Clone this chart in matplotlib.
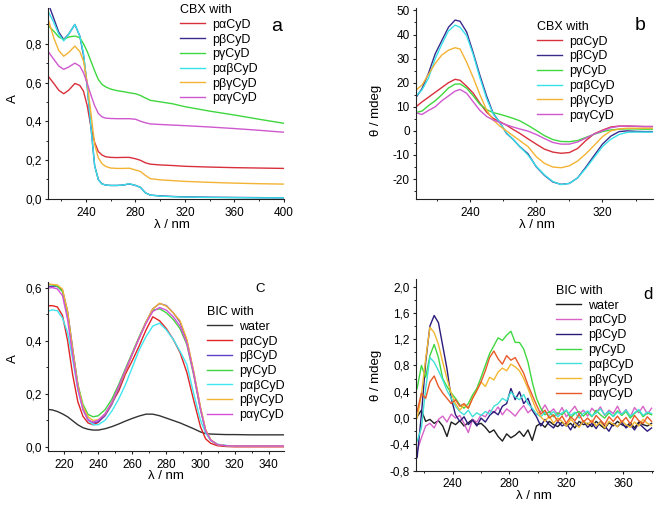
import numpy as np
import matplotlib
matplotlib.use("Agg")
import matplotlib.pyplot as plt
from matplotlib.ticker import MultipleLocator, AutoMinorLocator, FuncFormatter

plt.rcParams['font.family'] = ['Liberation Sans', 'DejaVu Sans']
plt.rcParams['axes.unicode_minus'] = False

# ---------------- panel a : CBX UV-Vis ----------------
wl_a = [210, 214, 218, 222, 226, 231, 235, 238, 241, 244, 247, 250, 253, 256, 260, 265,
        270, 275, 280, 284, 288, 292, 300, 310, 320, 340, 360, 380, 400]
a_pa = [0.628, 0.595, 0.56, 0.542, 0.56, 0.595, 0.585, 0.555, 0.48, 0.37, 0.29, 0.243, 0.225, 0.216, 0.213,
        0.212, 0.213, 0.213, 0.206, 0.198, 0.185, 0.178, 0.174, 0.171, 0.167, 0.163, 0.16, 0.158, 0.156]
a_pb = [1.00, 0.93, 0.86, 0.822, 0.85, 0.90, 0.84, 0.74, 0.58, 0.37, 0.17, 0.098, 0.076, 0.07, 0.068,
        0.068, 0.07, 0.076, 0.068, 0.058, 0.03, 0.018, 0.014, 0.011, 0.009, 0.007, 0.006, 0.005, 0.004]
a_pg = [0.89, 0.865, 0.835, 0.823, 0.835, 0.84, 0.832, 0.80, 0.76, 0.71, 0.66, 0.615, 0.59, 0.577, 0.566,
        0.558, 0.553, 0.547, 0.542, 0.533, 0.52, 0.508, 0.50, 0.49, 0.475, 0.452, 0.432, 0.41, 0.389]
a_pab = [0.96, 0.91, 0.85, 0.815, 0.85, 0.90, 0.84, 0.75, 0.58, 0.37, 0.17, 0.097, 0.075, 0.07, 0.068,
         0.068, 0.07, 0.077, 0.068, 0.058, 0.03, 0.018, 0.013, 0.010, 0.008, 0.006, 0.005, 0.004, 0.004]
a_pbg = [0.915, 0.83, 0.765, 0.736, 0.755, 0.788, 0.76, 0.71, 0.60, 0.44, 0.28, 0.21, 0.18, 0.166, 0.158,
         0.156, 0.156, 0.157, 0.148, 0.14, 0.12, 0.103, 0.097, 0.093, 0.089, 0.084, 0.08, 0.077, 0.075]
a_pag = [0.755, 0.72, 0.685, 0.668, 0.68, 0.70, 0.685, 0.65, 0.595, 0.535, 0.48, 0.44, 0.422, 0.416, 0.414,
         0.413, 0.413, 0.413, 0.41, 0.40, 0.392, 0.386, 0.383, 0.38, 0.377, 0.37, 0.362, 0.353, 0.343]

# ---------------- panel b : CBX CD ----------------
wl_b = [207, 211, 215, 219, 223, 227, 231, 234, 238, 242, 246, 250, 254, 258, 262, 266, 270,
        275, 280, 285, 290, 295, 300, 305, 310, 315, 320, 325, 330, 335, 340, 345, 350]
b_pa = [9.8, 12, 14, 16, 18, 20, 21.4, 21, 18.5, 15.6, 11.5, 7.8, 5.2, 3.8, 2.4, 0.6, -1,
        -3.3, -5.5, -7.6, -8.8, -9.3, -9, -7.3, -4, -1.2, 0.3, 1.6, 2, 2, 1.9, 1.8, 1.8]
b_pb = [13.5, 17.5, 24, 32, 37.5, 43, 46, 45.5, 41, 32.3, 23, 14.5, 7.3, 3.5, -1, -3.5, -6.5,
        -9.5, -14.9, -18.5, -21.2, -22.2, -21.8, -19.5, -15, -10.2, -5.5, -2.2, -0.3, 0, -0.2, -0.3, -0.3]
b_pg = [7.6, 8.2, 10.5, 12.5, 15, 17.8, 19.4, 19.5, 17.7, 14.5, 11, 8.8, 7.6, 6.9, 6.1, 5.2, 4.2,
        2.3, 0.2, -2, -3.6, -4.4, -4.5, -4, -2.7, -1.4, -0.3, 0.4, 0.7, 0.8, 0.8, 0.7, 0.7]
b_pab = [14.2, 17, 22, 30, 36, 41.5, 43.9, 43, 39.5, 31.5, 22, 13.5, 7, 3.5, -0.8, -3.5, -6.5,
         -10, -14.7, -18.3, -21, -22.3, -21.8, -19.5, -15.5, -11, -6.5, -3.5, -1.5, -0.6, -0.5, -0.5, -0.5]
b_pbg = [16.7, 19, 23.5, 28, 31.5, 33.5, 34.5, 34, 28.5, 22, 15, 8.7, 4.5, 2, 0, -2, -4,
         -6.5, -10.7, -13.5, -15, -15.3, -14.5, -12.5, -9.5, -6, -2.4, 0, 0.8, 1.1, 1.1, 1.1, 1.1]
b_pag = [7.6, 6.8, 8.5, 10, 12.5, 14.5, 16.5, 17.2, 15.6, 12, 8.5, 6, 4.5, 3.5, 2.5, 1.6, 0.8,
         -0.1, -1.5, -3.2, -4.8, -5.5, -5.5, -4.6, -3, -1.3, 0, 1.3, 1.9, 2, 1.9, 1.8, 1.8]

# ---------------- panel c : BIC UV-Vis ----------------
wl_c = [210, 213, 216, 219, 222, 225, 228, 231, 234, 237, 240, 244, 248, 252, 256, 260, 264,
        268, 272, 276, 280, 284, 288, 292, 296, 300, 303, 306, 310, 315, 320, 330, 340, 350]
c_w = [0.141, 0.139, 0.133, 0.124, 0.113, 0.098, 0.083, 0.072, 0.066, 0.063, 0.063, 0.068, 0.076, 0.086,
       0.097, 0.107, 0.116, 0.123, 0.123, 0.117, 0.108, 0.099, 0.09, 0.079, 0.068, 0.056, 0.05, 0.048,
       0.047, 0.046, 0.046, 0.045, 0.045, 0.045]
c_pa = [0.531, 0.532, 0.527, 0.495, 0.40, 0.27, 0.17, 0.115, 0.09, 0.083, 0.092, 0.12, 0.165, 0.21,
        0.275, 0.325, 0.38, 0.44, 0.49, 0.475, 0.445, 0.405, 0.355, 0.28, 0.175, 0.075, 0.03, 0.013,
        0.004, 0.001, 0.0, 0.0, 0.0, 0.0]
c_pb = [0.603, 0.605, 0.604, 0.59, 0.51, 0.37, 0.235, 0.145, 0.103, 0.09, 0.094, 0.117, 0.16, 0.22,
        0.285, 0.35, 0.41, 0.47, 0.52, 0.54, 0.532, 0.505, 0.47, 0.40, 0.28, 0.145, 0.062, 0.025,
        0.008, 0.004, 0.003, 0.003, 0.003, 0.003]
c_pg = [0.612, 0.61, 0.605, 0.585, 0.50, 0.36, 0.235, 0.16, 0.122, 0.113, 0.117, 0.14, 0.18, 0.235,
        0.295, 0.355, 0.415, 0.47, 0.515, 0.52, 0.505, 0.48, 0.445, 0.385, 0.27, 0.14, 0.06, 0.024,
        0.008, 0.004, 0.003, 0.003, 0.003, 0.003]
c_pab = [0.51, 0.516, 0.513, 0.485, 0.43, 0.33, 0.215, 0.14, 0.10, 0.083, 0.083, 0.10, 0.135, 0.18,
         0.235, 0.30, 0.365, 0.415, 0.455, 0.466, 0.44, 0.405, 0.36, 0.31, 0.20, 0.10, 0.052, 0.024,
         0.01, 0.005, 0.003, 0.003, 0.003, 0.003]
c_pbg = [0.614, 0.612, 0.61, 0.594, 0.51, 0.365, 0.232, 0.152, 0.113, 0.099, 0.102, 0.123, 0.165, 0.225,
         0.285, 0.35, 0.41, 0.47, 0.52, 0.541, 0.53, 0.505, 0.475, 0.405, 0.285, 0.15, 0.065, 0.027,
         0.008, 0.004, 0.003, 0.003, 0.003, 0.003]
c_pag = [0.598, 0.60, 0.595, 0.57, 0.48, 0.345, 0.22, 0.14, 0.10, 0.093, 0.10, 0.125, 0.168, 0.228,
         0.29, 0.35, 0.41, 0.465, 0.51, 0.525, 0.515, 0.49, 0.455, 0.39, 0.275, 0.14, 0.06, 0.025,
         0.008, 0.004, 0.003, 0.003, 0.003, 0.003]

# ---------------- panel d : BIC CD ----------------
wl_d = [215, 218, 221, 224, 227, 230, 233, 236, 239, 242, 245, 248, 251, 254, 257, 260,
        263, 266, 269, 272, 275, 278, 281, 284, 287, 290, 293, 296, 299, 302, 305, 308,
        311, 314, 317, 320, 323, 326, 329, 332, 335, 338, 341, 344, 347, 350, 353, 356,
        359, 362, 365, 368, 371, 374, 377, 380]
d_w = [0.02, 0.12, -0.05, -0.02, -0.08, -0.04, -0.12, -0.28,
       -0.06, -0.10, -0.04, -0.12, -0.07, -0.02, -0.10, -0.08,
       -0.14, -0.22, -0.18, -0.28, -0.35, -0.24, -0.30, -0.26,
       -0.20, -0.28, -0.18, -0.34, -0.12, -0.08, -0.14, -0.05,
       -0.10, -0.13, -0.06, -0.12, -0.08, -0.15, -0.05, -0.10,
       -0.08, -0.13, -0.05, -0.11, -0.16, -0.07, -0.12, -0.05,
       -0.10, -0.13, -0.07, -0.15, -0.06, -0.10, -0.12, -0.08]
d_pa = [-0.50, -0.30, -0.12, -0.08, -0.15, -0.02, 0.03, -0.06,
        0.06, 0.00, 0.04, -0.08, -0.22, -0.02, -0.06, 0.05,
        0.02, 0.12, 0.08, 0.17, 0.05, 0.14, 0.09, 0.03,
        0.12, 0.19, 0.08, 0.14, 0.05, 0.10, 0.20, 0.08,
        0.14, 0.05, 0.16, 0.02, 0.10, 0.18, 0.06, 0.12,
        0.03, 0.15, 0.08, 0.17, 0.04, 0.12, 0.07, 0.18,
        0.05, 0.13, 0.02, 0.16, 0.08, 0.18, 0.06, 0.15]
d_pb = [-0.60, 0.05, 0.85, 1.40, 1.56, 1.45, 1.10, 0.75,
        0.30, 0.05, -0.05, 0.02, -0.10, -0.03, -0.12, 0.00,
        -0.06, 0.04, 0.10, 0.05, 0.18, 0.22, 0.45, 0.28,
        0.40, 0.22, 0.30, 0.12, 0.02, -0.12, -0.02, -0.10,
        -0.15, -0.05, -0.12, -0.08, -0.18, -0.06, -0.12, -0.04,
        -0.14, -0.08, -0.16, -0.05, -0.12, -0.20, -0.08, -0.13,
        -0.06, -0.15, -0.10, -0.18, -0.08, -0.14, -0.20, -0.15]
d_pg = [0.45, 0.80, 0.62, 0.95, 1.12, 0.92, 0.60, 0.48,
        0.38, 0.30, 0.20, 0.15, 0.22, 0.35, 0.45, 0.62,
        0.80, 0.98, 1.10, 1.22, 1.18, 1.26, 1.32, 1.15,
        1.15, 1.05, 0.85, 0.55, 0.30, 0.15, 0.05, 0.10,
        0.02, 0.08, 0.05, 0.12, 0.00, 0.07, 0.10, 0.03,
        0.09, 0.02, 0.12, 0.05, 0.00, 0.08, 0.03, 0.11,
        0.04, 0.10, 0.00, 0.07, 0.12, 0.02, 0.08, 0.05]
d_pab = [-0.35, -0.15, 0.45, 0.92, 0.85, 0.72, 0.58, 0.42,
         0.30, 0.18, 0.10, 0.05, 0.12, 0.02, 0.08, 0.04,
         0.10, 0.06, 0.18, 0.22, 0.30, 0.26, 0.40, 0.32,
         0.28, 0.36, 0.22, 0.15, 0.06, 0.02, 0.09, 0.04,
         0.10, 0.02, 0.08, 0.12, 0.04, 0.09, 0.00, 0.07,
         0.11, 0.03, 0.08, 0.14, 0.05, 0.10, 0.02, 0.09,
         0.06, 0.12, 0.03, 0.08, 0.13, 0.04, 0.09, 0.07]
d_pbg = [0.00, 0.35, 0.90, 1.38, 1.30, 1.12, 0.85, 0.60,
         0.38, 0.22, 0.12, 0.20, 0.15, 0.30, 0.42, 0.55,
         0.48, 0.62, 0.58, 0.70, 0.76, 0.72, 0.82, 0.78,
         0.72, 0.60, 0.45, 0.28, 0.12, 0.02, -0.05, 0.03,
         -0.08, 0.00, -0.05, -0.12, -0.02, -0.08, -0.14, -0.04,
         -0.10, -0.03, -0.12, -0.06, -0.15, -0.05, -0.09, -0.13,
         -0.04, -0.10, -0.14, -0.06, -0.12, -0.02, -0.08, -0.11]
d_pag = [0.10, 0.38, 0.30, 0.55, 0.64, 0.48, 0.38, 0.30,
         0.22, 0.28, 0.18, 0.22, 0.15, 0.30, 0.42, 0.55,
         0.72, 0.92, 1.02, 0.90, 0.82, 0.95, 0.88, 0.92,
         0.80, 0.68, 0.50, 0.35, 0.20, 0.06, 0.12, 0.00,
         0.05, -0.05, 0.03, -0.08, 0.02, -0.04, 0.06, -0.06,
         0.00, -0.07, 0.04, -0.03, -0.10, 0.02, -0.05, 0.03,
         -0.06, 0.01, -0.09, 0.04, -0.04, -0.08, 0.02, -0.05]

labels_cd = ['pαCyD', 'pβCyD', 'pγCyD', 'pαβCyD', 'pβγCyD', 'pαγCyD']
colors_cbx = ['#d8303c', '#3a2a8c', '#3ed83e', '#38e2ea', '#f4b334', '#cf58cf']
colors_bic_abs = ['#333333', '#e02424', '#6242c4', '#40d440', '#40e6f0', '#f2b232', '#d450d8']
colors_bic_cd = ['#1e1e1e', '#d862c8', '#2c1a7a', '#40d840', '#40e0d8', '#f2b830', '#e85a28']

W, H = 661, 508
fig = plt.figure(figsize=(W / 100, H / 100), dpi=100)


def add_ax(l, t, r, b):
    return fig.add_axes([l / W, 1 - b / H, (r - l) / W, (b - t) / H])


def comma(dec):
    def f(v, pos):
        if abs(v) < 1e-9:
            v = 0.0
        return f"{v:.{dec}f}".replace('.', ',')
    return FuncFormatter(f)


def style(ax, xmaj, ymaj, dec):
    for s in ['top', 'right']:
        ax.spines[s].set_visible(False)
    for s in ['left', 'bottom']:
        ax.spines[s].set_linewidth(0.8)
        ax.spines[s].set_color('#222222')
    ax.xaxis.set_major_locator(MultipleLocator(xmaj))
    ax.yaxis.set_major_locator(MultipleLocator(ymaj))
    ax.xaxis.set_minor_locator(AutoMinorLocator(2))
    ax.yaxis.set_minor_locator(AutoMinorLocator(2))
    ax.yaxis.set_major_formatter(comma(dec))
    ax.tick_params(which='major', length=2.5, width=0.8, labelsize=8.5, color='#222222')
    ax.tick_params(which='minor', length=1.5, width=0.7, color='#222222')
    ax.tick_params(axis='y', pad=2)
    ax.tick_params(axis='x', pad=3)


def legend(ax, title, x, y):
    ax.legend(title=title, loc='upper left', bbox_to_anchor=(x / W, 1 - y / H),
              bbox_transform=fig.transFigure, frameon=False, fontsize=9, title_fontsize=9,
              borderpad=0, borderaxespad=0, handlelength=2.0, handletextpad=0.6,
              labelspacing=0.22, alignment='left')


# panel a
ax = add_ax(48, 8, 284, 199)
for ys, lab, col in zip([a_pa, a_pb, a_pg, a_pab, a_pbg, a_pag], labels_cd, colors_cbx):
    ax.plot(wl_a, ys, color=col, lw=1.0, label=lab)
ax.set_xlim(209.3, 400)
ax.set_ylim(-0.002, 0.985)
style(ax, 40, 0.2, 1)
ax.set_xlabel('λ / nm', fontsize=9.5)
ax.set_ylabel('A', fontsize=9.5)
ax.xaxis.set_label_coords((171.7 - 48) / 236, -0.105)
ax.yaxis.set_label_coords(-0.125, 0.524)
legend(ax, 'CBX with', 180, 4)
fig.text(276.7 / W, 1 - 30.7 / H, 'a', ha='center', va='baseline', fontsize=14)

# panel b
ax = add_ax(416, 8, 653, 199.3)
for ys, lab, col in zip([b_pa, b_pb, b_pg, b_pab, b_pbg, b_pag], labels_cd, colors_cbx):
    ax.plot(wl_b, ys, color=col, lw=1.0, label=lab)
ax.set_xlim(207.4, 350.5)
ax.set_ylim(-28.4, 51)
style(ax, 40, 10, 0)
ax.set_xlabel('λ / nm', fontsize=9.5)
ax.set_ylabel('θ / mdeg', fontsize=9.5)
ax.xaxis.set_label_coords((536.7 - 416) / 237, -0.105)
ax.yaxis.set_label_coords(-0.145, 0.466)
legend(ax, 'CBX with', 537, 21)
fig.text(640 / W, 1 - 30 / H, 'b', ha='center', va='baseline', fontsize=14)

# panel c
ax = add_ax(48, 282.3, 284, 451.3)
for ys, lab, col in zip([c_w, c_pa, c_pb, c_pg, c_pab, c_pbg, c_pag],
                        ['water'] + labels_cd, colors_bic_abs):
    ax.plot(wl_c, ys, color=col, lw=1.0, label=lab)
ax.set_xlim(210.5, 349)
ax.set_ylim(-0.017, 0.62)
style(ax, 20, 0.2, 1)
ax.set_xlabel('λ / nm', fontsize=9.5)
ax.set_ylabel('A', fontsize=9.5)
ax.xaxis.set_label_coords((165.7 - 48) / 236, -0.111)
ax.yaxis.set_label_coords(-0.125, 0.546)
legend(ax, 'BIC with', 206.7, 306)
fig.text(260 / W, 1 - 292.3 / H, 'C', ha='center', va='baseline', fontsize=9.5)

# panel d
ax = add_ax(416, 279.3, 653, 470.7)
for ys, lab, col in zip([d_w, d_pa, d_pb, d_pg, d_pab, d_pbg, d_pag],
                        ['water'] + labels_cd, colors_bic_cd):
    ax.plot(wl_d, ys, color=col, lw=1.0, label=lab)
ax.set_xlim(214.2, 381)
ax.set_ylim(-0.8, 2.11)
style(ax, 40, 0.4, 1)
ax.set_xlabel('λ / nm', fontsize=9.5)
ax.set_ylabel('θ / mdeg', fontsize=9.5)
ax.xaxis.set_label_coords((534 - 416) / 237, -0.10)
ax.yaxis.set_label_coords(-0.145, 0.5)
legend(ax, 'BIC with', 556, 285)
fig.text(648.3 / W, 1 - 299 / H, 'd', ha='center', va='baseline', fontsize=12)

fig.savefig('out.png', dpi=100)
